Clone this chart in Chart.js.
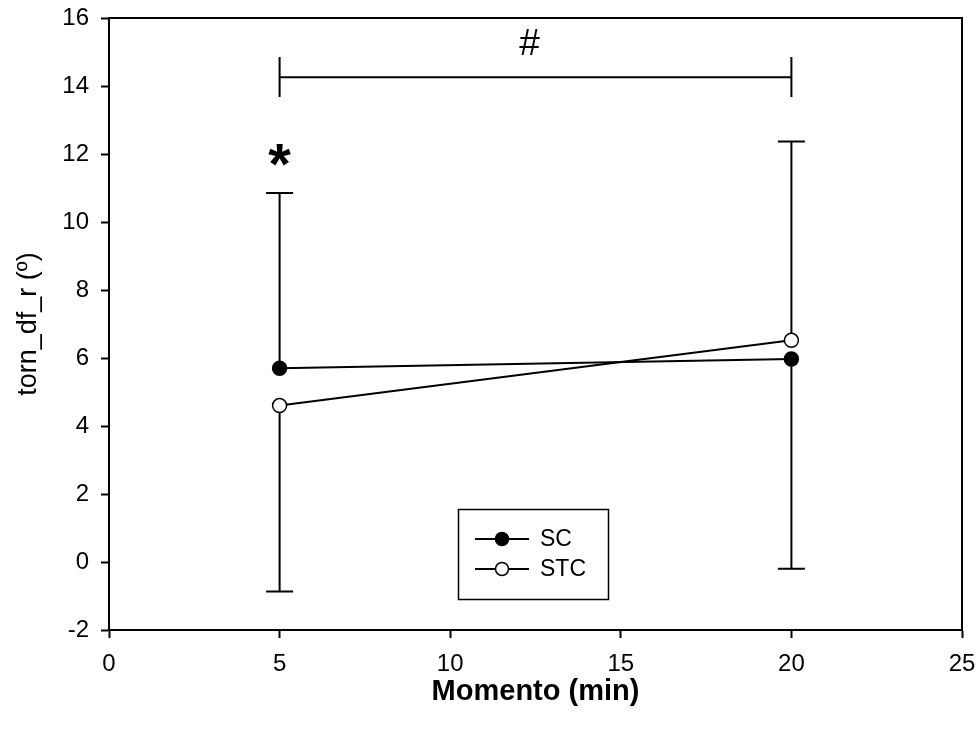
<!DOCTYPE html>
<html>
<head>
<meta charset="utf-8">
<script src="https://cdn.jsdelivr.net/npm/chart.js@4/dist/chart.umd.min.js"></script>
<style>
  html, body { margin: 0; padding: 0; background: #ffffff; }
  #wrap { width: 979px; height: 733px; }
</style>
</head>
<body>
<div id="wrap"><canvas id="c" width="979" height="733"></canvas></div>
<script>
// ---- data ----
const xValues = [5, 20];
const seriesNames = ['SC', 'STC'];
const scMean = [5.7, 5.97];
const stcMean = [4.6, 6.52];
const scSD = [5.15, 6.17];
const stcSD = [5.47, 5.85];
// error bar direction drawn in the figure (+1 up, -1 down)
const scErrDir = [1, -1];
const stcErrDir = [-1, 1];
const xTicks = [0, 5, 10, 15, 20, 25];
const yTicks = [-2, 0, 2, 4, 6, 8, 10, 12, 14, 16];
const xTitle = 'Momento (min)';
const yTitle = 'torn_df_r (º)';
// significance annotations
const bracketX = [5, 20];
const bracketY = 14.26;
const bracketEnds = [13.68, 14.85];
const bracketLabel = '#';
const bracketLabelY = 15.2;
const starLabel = '*';
const starX = 5;
const starY = 11.6;

const FONT = '"Liberation Sans", Arial, Helvetica, sans-serif';

const toPts = (xs, ys) => xs.map((x, i) => ({ x: x, y: ys[i] }));

const annotPlugin = {
  id: 'annot',
  afterDatasetsDraw(chart) {
    const ctx = chart.ctx;
    const ca = chart.chartArea;
    ctx.save();
    ctx.strokeStyle = '#000';
    ctx.lineWidth = 2;
    ctx.beginPath();
    ctx.moveTo(ca.left, ca.top); ctx.lineTo(ca.right, ca.top); ctx.lineTo(ca.right, ca.bottom);
    ctx.stroke();
    ctx.restore();
  },
  beforeDatasetsDraw(chart) {
    const ctx = chart.ctx;
    const xs = chart.scales.x, ys = chart.scales.y;
    ctx.save();
    ctx.strokeStyle = '#000';
    ctx.lineWidth = 2;
    const cap = 13.5;
    const drawErr = (means, sds, dirs) => {
      xValues.forEach((xv, i) => {
        const px = xs.getPixelForValue(xv);
        const py0 = ys.getPixelForValue(means[i]);
        const py1 = ys.getPixelForValue(means[i] + dirs[i] * sds[i]);
        ctx.beginPath();
        ctx.moveTo(px, py0); ctx.lineTo(px, py1);
        ctx.moveTo(px - cap, py1); ctx.lineTo(px + cap, py1);
        ctx.stroke();
      });
    };
    drawErr(scMean, scSD, scErrDir);
    drawErr(stcMean, stcSD, stcErrDir);

    const bx0 = xs.getPixelForValue(bracketX[0]);
    const bx1 = xs.getPixelForValue(bracketX[1]);
    const by = ys.getPixelForValue(bracketY);
    const be0 = ys.getPixelForValue(bracketEnds[0]);
    const be1 = ys.getPixelForValue(bracketEnds[1]);
    ctx.beginPath();
    ctx.moveTo(bx0, by); ctx.lineTo(bx1, by);
    ctx.moveTo(bx0, be0); ctx.lineTo(bx0, be1);
    ctx.moveTo(bx1, be0); ctx.lineTo(bx1, be1);
    ctx.stroke();

    ctx.fillStyle = '#000';
    ctx.textAlign = 'center';
    ctx.textBaseline = 'middle';
    ctx.font = '37px ' + FONT;
    ctx.fillText(bracketLabel, (bx0 + bx1) / 2 - 6, ys.getPixelForValue(bracketLabelY));
    ctx.font = 'bold 58px ' + FONT;
    ctx.fillText(starLabel, xs.getPixelForValue(starX), ys.getPixelForValue(starY));
    ctx.restore();
  },
  afterDraw(chart) {
    const ctx = chart.ctx;
    ctx.save();
    ctx.strokeStyle = '#000';
    ctx.lineWidth = 1.5;
    ctx.strokeRect(458.5, 509.5, 150, 90);
    const rows = [539, 569];
    chart.data.datasets.forEach((ds, i) => {
      const y = rows[i];
      ctx.lineWidth = 2;
      ctx.beginPath(); ctx.moveTo(475, y); ctx.lineTo(529, y); ctx.stroke();
      ctx.beginPath(); ctx.arc(502, y, 6.5, 0, Math.PI * 2);
      ctx.fillStyle = ds.pointBackgroundColor; ctx.fill();
      ctx.lineWidth = 1.5; ctx.stroke();
      ctx.fillStyle = '#000';
      ctx.font = '23px ' + FONT;
      ctx.textAlign = 'left'; ctx.textBaseline = 'middle';
      ctx.fillText(ds.label, 540, y + 1);
    });
    ctx.restore();
  }
};

new Chart(document.getElementById('c'), {
  type: 'line',
  data: {
    datasets: [
      { label: seriesNames[0], data: toPts(xValues, scMean), borderColor: '#000', borderWidth: 2,
        pointRadius: 7, pointBackgroundColor: '#000', pointBorderColor: '#000', pointBorderWidth: 1.5, tension: 0 },
      { label: seriesNames[1], data: toPts(xValues, stcMean), borderColor: '#000', borderWidth: 2,
        pointRadius: 7, pointBackgroundColor: '#fff', pointBorderColor: '#000', pointBorderWidth: 1.5, tension: 0 }
    ]
  },
  options: {
    responsive: false,
    animation: false,
    devicePixelRatio: 1,
    layout: { padding: { left: 0, top: 18, right: 17, bottom: 0 } },
    plugins: { legend: { display: false }, tooltip: { enabled: false } },
    scales: {
      x: {
        type: 'linear', min: 0, max: 25,
        afterBuildTicks: (s) => { s.ticks = xTicks.map(v => ({ value: v })); },
        afterFit: (s) => { s.height = 103; s.paddingLeft = 0; s.paddingRight = 0; },
        grid: { drawOnChartArea: false, drawTicks: true, tickLength: 8, tickColor: '#000', tickWidth: 2 },
        border: { display: true, color: '#000', width: 2 },
        ticks: { color: '#000', font: { family: FONT, size: 24 }, padding: 12, maxRotation: 0 },
        title: { display: true, text: xTitle, color: '#000', font: { family: FONT, size: 29, weight: 'bold' }, padding: { top: 0, bottom: 24 } }
      },
      y: {
        type: 'linear', min: -2, max: 16,
        afterBuildTicks: (s) => { s.ticks = yTicks.map(v => ({ value: v })); },
        afterFit: (s) => { s.width = 109; s.paddingTop = 0; s.paddingBottom = 0; },
        grid: { drawOnChartArea: false, drawTicks: true, tickLength: 8, tickColor: '#000', tickWidth: 2 },
        border: { display: true, color: '#000', width: 2 },
        ticks: { color: '#000', font: { family: FONT, size: 24 }, padding: 12 },
        title: { display: true, text: yTitle, color: '#000', font: { family: FONT, size: 27 }, padding: { top: 12, bottom: 0 } }
      }
    }
  },
  plugins: [annotPlugin]
});
</script>
</body>
</html>
